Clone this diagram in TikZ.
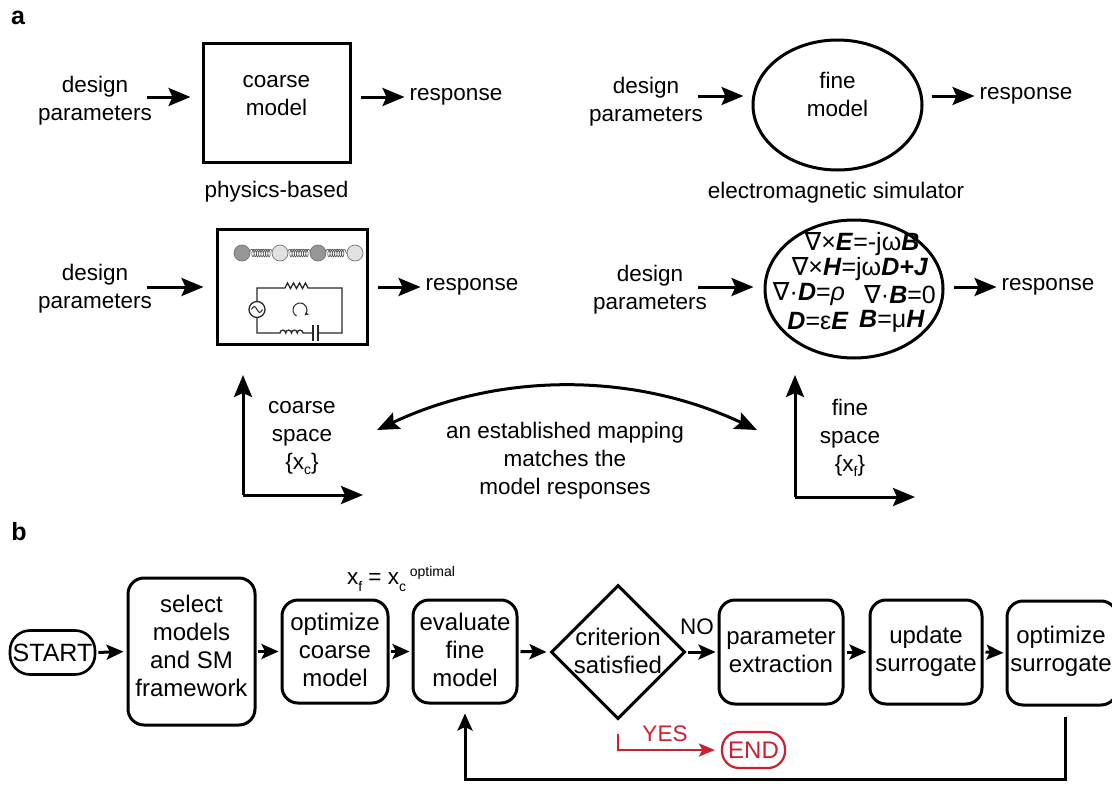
\documentclass[tikz,border=0pt]{standalone}
\usepackage{fontspec}
\setmainfont{Liberation Sans}
\newfontfamily\djvfont{DejaVu Sans}
\usetikzlibrary{arrows.meta,shapes.geometric,decorations.pathmorphing}
\definecolor{yesred}{RGB}{204,32,44}
\definecolor{wire}{RGB}{40,40,40}
\definecolor{balldark}{RGB}{150,150,150}
\definecolor{balllight}{RGB}{225,225,225}
\newcommand{\nab}{{\djvfont ∇}}
\newcommand{\vb}[1]{\textbf{\textit{#1}}}
\begin{document}
\begin{tikzpicture}[x=1pt,y=-1pt,
  lbl/.style={align=center, font=\fontsize{22.5}{28}\selectfont, inner sep=0pt},
  flowtxt/.style={align=center, font=\fontsize{24}{28}\selectfont, inner sep=0pt},
  eqtxt/.style={font=\fontsize{25}{25}\selectfont, inner sep=0pt},
  panel/.style={font=\fontsize{25}{25}\selectfont\bfseries, inner sep=0pt},
  modelbox/.style={draw, line width=3pt, rectangle, inner sep=0pt},
  modelell/.style={draw, line width=3pt, ellipse, inner sep=0pt},
  flowbox/.style={draw, line width=3pt, rounded corners=16pt, inner sep=0pt},
  arr/.style={line width=3pt, -{Stealth[length=22pt,width=18pt,inset=4pt]}},
  darr/.style={line width=3pt, {Stealth[length=22pt,width=18pt,inset=4pt]}-{Stealth[length=22pt,width=18pt,inset=4pt]}},
  farr/.style={line width=3pt, -{Stealth[length=17pt,width=15pt,inset=3.5pt]}},
  wires/.style={line width=1.3pt, draw=wire},
  springcoil/.style={line width=0.6pt, draw=black!70, decorate,
    decoration={coil, aspect=0.45, segment length=2.3pt, amplitude=3.8pt}},
]
\useasboundingbox (0,0) rectangle (1112,795);

% ---------------- panel a ----------------
\node[panel] (pa) at (18,18) {a};

% rows of arrows
\coordinate (r1l) at (0,97);
\coordinate (r1r) at (0,96);
\coordinate (r2l) at (0,287);
\coordinate (r2r) at (0,287);

% coarse model, top row
\node[lbl] (dp1) at (95,101) {design\\parameters};
\node[modelbox, minimum width=147pt, minimum height=119pt] (coarse) at (276.5,102.5) {};
\node[lbl] (coarsetxt) at (276.5,96) {coarse\\model};
\node[lbl] (resp1) at (456,97) {response};
\node[lbl] (phys) at (276.5,192) {physics-based};
\draw[arr] ([xshift=-5pt]dp1.east |- r1l) -- ([xshift=-11pt]coarse.west |- r1l);
\draw[arr] ([xshift=9pt]coarse.east |- r1l) -- ([xshift=-5pt]resp1.west |- r1l);

% fine model, top row
\node[lbl] (dp2) at (646,102) {design\\parameters};
\node[modelell, minimum width=169pt, minimum height=130pt] (fine) at (837.5,105) {};
\node[lbl] (finetxt) at (837.5,94) {fine\\model};
\node[lbl] (resp2) at (1026,96) {response};
\node[lbl] (emsim) at (836,193) {electromagnetic simulator};
\draw[arr] ([xshift=-5pt]dp2.east |- r1r) -- ([xshift=-8pt]fine.west |- r1r);
\draw[arr] ([xshift=8pt]fine.east |- r1r) -- ([xshift=-5pt]resp2.west |- r1r);

% coarse model, second row: spring chain and circuit
\node[lbl] (dp3) at (95,289) {design\\parameters};
\node[modelbox, minimum width=150pt, minimum height=115pt] (phys2) at (292,286.5) {};
\node[lbl] (resp3) at (472,287) {response};
\draw[arr] ([xshift=-5pt]dp3.east |- r2l) -- ([xshift=-12pt]phys2.west |- r2l);
\draw[arr] ([xshift=9pt]phys2.east |- r2l) -- ([xshift=-5pt]resp3.west |- r2l);

% spring chain
\draw[springcoil] (249.5,253) -- (272.5,253);
\draw[springcoil] (287.5,253) -- (310.5,253);
\draw[springcoil] (325.5,253) -- (347.5,253);
\foreach \cx/\fc in {242/balldark,280/balllight,318/balldark,355/balllight}
  \draw[line width=0.7pt, draw=black!55, fill=\fc] (\cx,253) circle (8);

% RLC circuit
\draw[wires] (257,301.5) -- (257,288) -- (285,288)
  -- (287.5,283) -- (290.5,288.5) -- (293.5,283) -- (296.5,288.5)
  -- (299.5,283) -- (302.5,288.5) -- (305.5,283) -- (308,288)
  -- (342,288) -- (342,333) -- (318,333);
\draw[wires] (318,325) -- (318,341);
\draw[wires] (313,325) -- (313,341);
\draw[wires] (313,333) -- (303,333)
  arc[start angle=0, end angle=-180, radius=2.875]
  arc[start angle=0, end angle=-180, radius=2.875]
  arc[start angle=0, end angle=-180, radius=2.875]
  arc[start angle=0, end angle=-180, radius=2.875]
  -- (257,333) -- (257,317.5);
\draw[wires] (257,309.5) circle (8);
\draw[wires, line width=1pt] (251.5,309.5) sin (254.25,306.5) cos (257,309.5) sin (259.75,312.5) cos (262.5,309.5);
\draw[wires, line width=1pt, -{Stealth[length=4.5pt,width=4.5pt]}]
  ([shift={(120:7)}]300,310) arc[start angle=120, end angle=410, radius=7];

% fine model, second row: Maxwell's equations
\node[lbl] (dp4) at (650,290) {design\\parameters};
\node[modelell, minimum width=178pt, minimum height=138pt] (maxw) at (854,289) {};
\node[lbl] (resp4) at (1048,287) {response};
\draw[arr] ([xshift=-9pt]dp4.east |- r2r) -- ([xshift=-10pt]maxw.west |- r2r);
\draw[arr] ([xshift=9pt]maxw.east |- r2r) -- ([xshift=-5pt]resp4.west |- r2r);
\node[eqtxt] (eq1) at (862,244) {\nab×\vb{E}=-jω\vb{B}};
\node[eqtxt] (eq2) at (860,269) {\nab×\vb{H}=jω\vb{D+J}};
\node[eqtxt] (eq3a) at (809,294.5) {\nab·\vb{D}=\textit{ρ}};
\node[eqtxt] (eq3b) at (900,294.5) {\nab·\vb{B}=0};
\node[eqtxt] (eq4a) at (818,321) {\vb{D}=ε\vb{E}};
\node[eqtxt] (eq4b) at (892,321) {\vb{B}=μ\vb{H}};

% design spaces and the mapping between them
\coordinate (corig) at (243,495);
\draw[arr] (corig) -- ++(0,-120);
\draw[arr] (corig) -- ++(120,0);
\node[lbl] (cspace) at (302,438) {coarse\\space\\\{x\raisebox{-5pt}{\fontsize{14}{14}\selectfont c}\}};

\coordinate (forig) at (795,497);
\draw[arr] (forig) -- ++(0,-122);
\draw[arr] (forig) -- ++(120,0);
\node[lbl] (fspace) at (850,438) {fine\\space\\\{x\raisebox{-5pt}{\fontsize{14}{14}\selectfont f}\}};

\coordinate (mapL) at (377,430);
\coordinate (mapR) at (757,430);
\draw[darr] (mapL) .. controls (500,372) and (634,372) .. (mapR);
\node[lbl] (maptxt) at (565,461) {an established mapping\\matches the\\model responses};

% ---------------- panel b ----------------
\node[panel] (pb) at (19,532) {b};

\node[draw, line width=2.6pt, rounded corners=20pt, minimum width=85pt, minimum height=44pt, inner sep=0pt,
  font=\fontsize{25}{28}\selectfont] (start) at (52.5,652.5) {START};
\node[flowbox, minimum width=127pt, minimum height=147pt] (sel) at (191.5,651.5) {};
\node[flowtxt] (seltxt) at (191.5,646) {select\\models\\and SM\\framework};
\node[flowbox, minimum width=106pt, minimum height=103pt] (optc) at (335,651.5) {};
\node[flowtxt] (optctxt) at (335,650) {optimize\\coarse\\model};
\node[flowbox, minimum width=104pt, minimum height=103pt] (evf) at (465,651.5) {};
\node[flowtxt] (evftxt) at (465,650) {evaluate\\fine\\model};
\node[draw, line width=3pt, diamond, minimum width=134pt, minimum height=134pt, inner sep=0pt] (crit) at (618,652) {};
\node[flowtxt] (crittxt) at (618,651) {criterion\\satisfied};
\node[flowbox, minimum width=124pt, minimum height=104pt] (pe) at (781,652) {};
\node[flowtxt] (petxt) at (781,651) {parameter\\extraction};
\node[flowbox, minimum width=112pt, minimum height=104pt] (us) at (926,652) {};
\node[flowtxt] (ustxt) at (926,651) {update\\surrogate};
\node[flowbox, minimum width=110pt, minimum height=104pt] (os) at (1062,653) {};
\node[flowtxt] (ostxt) at (1061,651) {optimize\\surrogate};

\node[font=\fontsize{22.5}{28}\selectfont, inner sep=0pt] (xeq) at (401,579)
  {x\raisebox{-7pt}{\fontsize{14}{14}\selectfont f} = x\raisebox{-7pt}{\fontsize{14}{14}\selectfont c}\,\raisebox{8pt}{\fontsize{14}{14}\selectfont optimal}};
\node[font=\fontsize{22.5}{28}\selectfont, inner sep=0pt] (nolbl) at (697,627) {NO};

\draw[farr, shorten <=2pt, shorten >=3pt] (start.east) -- (sel.west);
\draw[farr, shorten <=1pt, shorten >=2pt] (sel.east) -- (optc.west);
\draw[farr, shorten <=1pt, shorten >=2pt] (optc.east) -- (evf.west);
\draw[farr, shorten <=2pt, shorten >=3pt] (evf.east) -- (crit.west);
\draw[farr, shorten <=1pt, shorten >=2pt] (crit.east) -- (pe.west);
\draw[farr, shorten <=2pt, shorten >=2pt] (pe.east) -- (us.west);
\draw[farr, shorten <=2pt, shorten >=2pt] (us.east) -- (os.west);

% feedback loop
\coordinate (fbk) at (760,779);
\draw[farr, shorten <=10pt, shorten >=9pt] ([xshift=3pt]os.south) |- (fbk) -| (evf.south);

% exit branch
\node[draw=yesred, text=yesred, line width=2.2pt, rounded corners=17pt, minimum width=63pt, minimum height=36pt,
  inner sep=0pt, font=\fontsize{24}{28}\selectfont] (endn) at (753.5,750) {END};
\draw[draw=yesred, line width=2.6pt, -{Stealth[length=16pt,width=13pt,inset=3.5pt]}, shorten <=13pt, shorten >=6pt] (crit.south) |- (endn.west);
\node[font=\fontsize{22.5}{28}\selectfont, text=yesred, inner sep=0pt] (yeslbl) at (665,734) {YES};

\end{tikzpicture}
\end{document}
